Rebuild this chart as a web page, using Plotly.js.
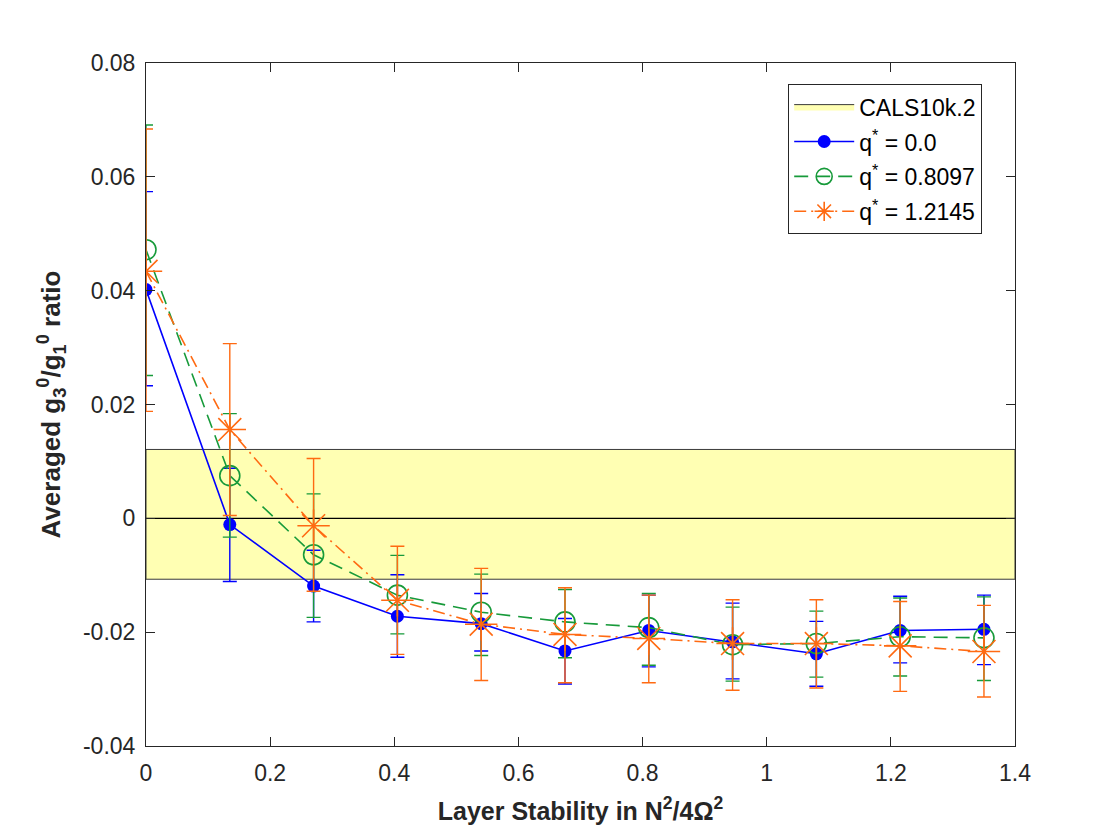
<!DOCTYPE html>
<html>
<head>
<meta charset="utf-8">
<script src="https://cdn.plot.ly/plotly-3.0.1.min.js"></script>
<style>html,body{margin:0;padding:0;background:#fff;}#chart{width:1120px;height:840px;}</style>
</head>
<body>
<div id="chart"></div>
<script>
// Layer stability values (x)
const stability = [0, 0.135, 0.27, 0.405, 0.54, 0.675, 0.81, 0.945, 1.08, 1.215, 1.35];

// q* = 0.0
const q0Ratio = [0.0402, -0.0011, -0.0119, -0.0172, -0.0185, -0.0233, -0.0197, -0.0217, -0.0238, -0.0197, -0.0195];
const q0ErrUp = [0.0172, 0.0099, 0.0063, 0.0073, 0.0053, 0.0057, 0.0062, 0.0068, 0.0057, 0.0060, 0.0060];
const q0ErrDown = [0.0169, 0.0100, 0.0063, 0.0072, 0.0048, 0.0058, 0.0064, 0.0065, 0.0057, 0.0057, 0.0062];

// q* = 0.8097
const q1Ratio = [0.0472, 0.0075, -0.0064, -0.0135, -0.0165, -0.0182, -0.0192, -0.0222, -0.0220, -0.0208, -0.0210];
const q1ErrUp = [0.0219, 0.0109, 0.0107, 0.0070, 0.0067, 0.0057, 0.0060, 0.0066, 0.0057, 0.0068, 0.0072];
const q1ErrDown = [0.0221, 0.0108, 0.0110, 0.0068, 0.0076, 0.0063, 0.0066, 0.0064, 0.0059, 0.0069, 0.0075];

// q* = 1.2145
const q2Ratio = [0.0434, 0.0156, -0.0013, -0.0144, -0.0186, -0.0204, -0.0211, -0.0220, -0.0220, -0.0224, -0.0234];
const q2ErrUp = [0.0250, 0.0151, 0.0118, 0.0095, 0.0098, 0.0082, 0.0076, 0.0077, 0.0077, 0.0078, 0.0081];
const q2ErrDown = [0.0246, 0.0151, 0.0115, 0.0095, 0.0099, 0.0085, 0.0078, 0.0082, 0.0078, 0.0080, 0.0080];

// CALS10k.2 band
const calsLow = -0.0107;
const calsHigh = 0.0121;
const calsLine = 0;
const xRange = [0, 1.4];

const xTicks = [0, 0.2, 0.4, 0.6, 0.8, 1, 1.2, 1.4];
const xTickText = ['0', '0.2', '0.4', '0.6', '0.8', '1', '1.2', '1.4'];
const yTicks = [-0.04, -0.02, 0, 0.02, 0.04, 0.06, 0.08];
const yTickText = ['-0.04', '-0.02', '0', '0.02', '0.04', '0.06', '0.08'];

const BLUE = '#0000ff', GREEN = '#179a3a', ORANGE = '#ff6a12';
const FONT = 'Liberation Sans, Arial, Helvetica, sans-serif';

const traces = [
  {
    x: [xRange[0], xRange[1], xRange[1], xRange[0], xRange[0]],
    y: [calsLow, calsLow, calsHigh, calsHigh, calsLow],
    type: 'scatter', mode: 'lines', fill: 'toself',
    fillcolor: '#ffffb3', line: {color: '#3a3a3a', width: 1},
    name: 'CALS10k.2', legendgroup: 'g0', hoverinfo: 'skip'
  },
  {
    x: xRange, y: [calsLine, calsLine],
    type: 'scatter', mode: 'lines', line: {color: '#000', width: 1.2},
    showlegend: false, hoverinfo: 'skip'
  },
  {
    x: stability, y: q0Ratio, type: 'scatter', mode: 'lines+markers',
    name: 'q<sup>*</sup> = 0.0', legendgroup: 'g1',
    line: {color: BLUE, width: 1.6},
    marker: {color: BLUE, size: 13, symbol: 'circle'},
    error_y: {type: 'data', array: q0ErrUp, arrayminus: q0ErrDown, symmetric: false, color: BLUE, thickness: 1.4, width: 7}
  },
  {
    x: stability, y: q1Ratio, type: 'scatter', mode: 'lines+markers',
    name: 'q<sup>*</sup> = 0.8097', legendgroup: 'g2',
    line: {color: GREEN, width: 1.6, dash: '14px,8px'},
    marker: {color: GREEN, size: 20, symbol: 'circle-open', line: {color: GREEN, width: 1.6}},
    error_y: {type: 'data', array: q1ErrUp, arrayminus: q1ErrDown, symmetric: false, color: GREEN, thickness: 1.4, width: 7}
  },
  {
    x: stability, y: q2Ratio, type: 'scatter', mode: 'lines+markers',
    name: 'q<sup>*</sup> = 1.2145', legendgroup: 'g3',
    line: {color: ORANGE, width: 1.6, dash: '12px,5px,2px,5px'},
    marker: {color: ORANGE, size: 27, symbol: 'asterisk-open', line: {color: ORANGE, width: 1.6}},
    error_y: {type: 'data', array: q2ErrUp, arrayminus: q2ErrDown, symmetric: false, color: ORANGE, thickness: 1.4, width: 7}
  }
];

const axisCommon = {
  showgrid: false, zeroline: false, showline: true, linecolor: '#262626', linewidth: 1,
  mirror: 'allticks', ticks: 'inside', ticklen: 9, tickcolor: '#262626', tickwidth: 1,
  tickfont: {family: FONT, size: 23, color: '#262626'}
};

const layout = {
  width: 1120, height: 840,
  margin: {l: 146, r: 105, t: 63, b: 94},
  paper_bgcolor: '#fff', plot_bgcolor: '#fff',
  showlegend: true,
  legend: {
    x: 0.739, y: 0.969, xanchor: 'left', yanchor: 'top',
    bgcolor: '#fff', bordercolor: '#262626', borderwidth: 1,
    font: {family: FONT, size: 23, color: '#000'},
    itemwidth: 60, traceorder: 'grouped', tracegroupgap: 2
  },
  xaxis: Object.assign({}, axisCommon, {
    range: xRange, tickvals: xTicks, ticktext: xTickText, ticklabelstandoff: 6,
    title: {text: '<b>Layer Stability in N<sup>2</sup>/4Ω<sup>2</sup></b>', standoff: 17,
            font: {family: FONT, size: 25, color: '#262626'}}
  }),
  yaxis: Object.assign({}, axisCommon, {
    range: [-0.04, 0.08], tickvals: yTicks, ticktext: yTickText, ticklabelstandoff: 5,
    title: {text: '<b>Averaged g<sub>3</sub><sup>0</sup>/g<sub>1</sub><sup>0</sup> ratio</b>', standoff: 14,
            font: {family: FONT, size: 26, color: '#262626'}}
  })
};

Plotly.newPlot('chart', traces, layout, {displayModeBar: false, staticPlot: true});
</script>
</body>
</html>
